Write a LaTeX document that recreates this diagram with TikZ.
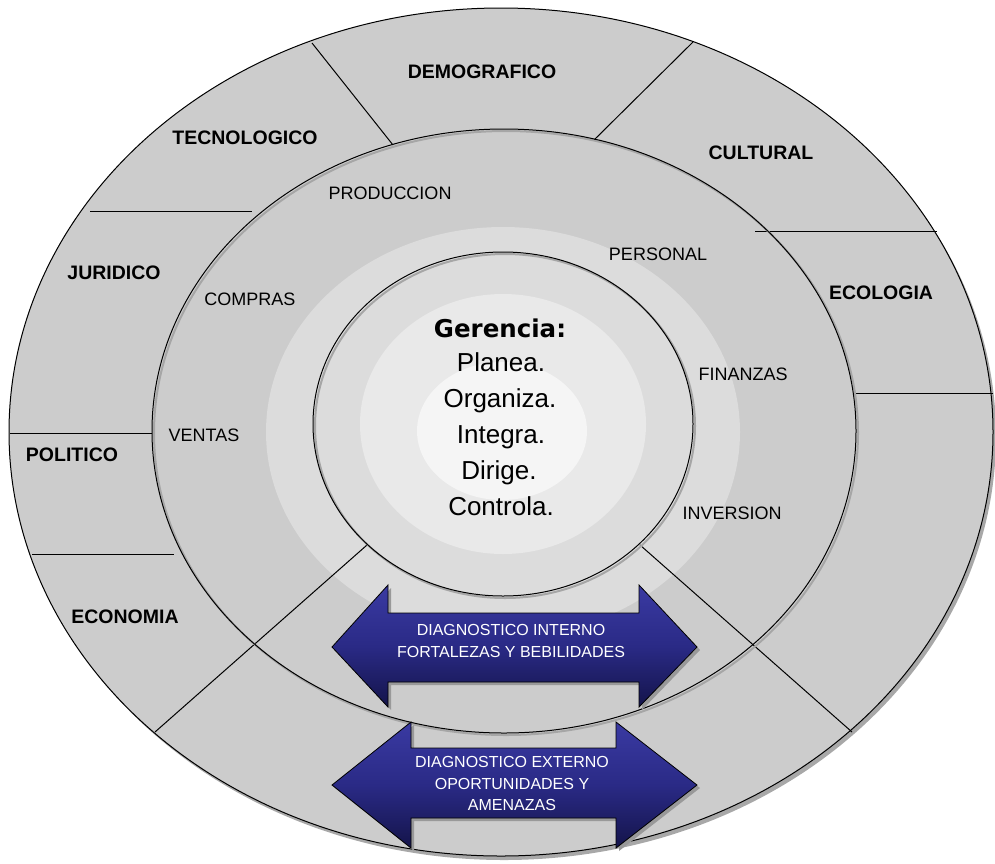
\documentclass[tikz,border=0pt]{standalone}
\usepackage{fontspec}
\setmainfont{Liberation Sans}
\newfontfamily\dejavu{DejaVu Sans}
\definecolor{ring}{HTML}{CCCCCC}
\definecolor{bandA}{HTML}{DCDCDC}
\definecolor{bandB}{HTML}{E9E9E9}
\definecolor{bandC}{HTML}{F5F5F5}
\definecolor{shadowc}{HTML}{A8A8A8}
\definecolor{arrtop}{HTML}{3A3AA2}
\definecolor{arrmid}{HTML}{2A2A86}
\definecolor{arrbot}{HTML}{14144A}
\tikzset{
  outerlbl/.style={font=\fontsize{19.5}{19.5}\selectfont\bfseries, inner sep=0pt},
  innerlbl/.style={font=\fontsize{18}{18}\selectfont, inner sep=0pt},
  arrtxt/.style={text=white, align=center, font=\fontsize{16}{21.5}\selectfont, inner sep=0pt},
  ctrline/.style={font=\fontsize{26}{26}\selectfont, anchor=base, inner sep=0pt},
  ctrhead/.style={font=\dejavu\fontsize{24.5}{24.5}\selectfont\bfseries, anchor=base, inner sep=0pt},
  ln/.style={line width=1pt, draw=black},
  lnshadow/.style={line width=2pt, draw=black!35},
  arrbody/.style={top color=arrtop, bottom color=arrbot, middle color=arrmid, draw=black, line width=0.8pt},
  arrshadow/.style={fill=black!40}
}
\begin{document}
\begin{tikzpicture}[x=1pt,y=-1pt]
\useasboundingbox (0,0) rectangle (995,863);
% outer ring
\fill[shadowc] (504,436) ellipse [x radius=492, y radius=424];
\filldraw[fill=ring, ln] (501,432) ellipse [x radius=492, y radius=424];
% segment dividers in outer ring
\coordinate (d1o) at (312,43);  \coordinate (d1i) at (393,145);
\coordinate (d2o) at (693,42);  \coordinate (d2i) at (594,140);
\coordinate (d3i) at (755,231); \coordinate (d3o) at (937,231);
\coordinate (d4i) at (855,393); \coordinate (d4o) at (993,393);
\coordinate (d5o) at (90,211);  \coordinate (d5i) at (252,211);
\coordinate (d6o) at (10,433);  \coordinate (d6i) at (152,433);
\coordinate (d7o) at (32,554);  \coordinate (d7i) at (174,554);
\draw[ln] (d1o) -- (d1i);
\draw[ln] (d2o) -- (d2i);
\draw[ln] (d3i) -- (d3o);
\draw[ln] (d4i) -- (d4o);
\draw[ln] (d5o) -- (d5i);
\draw[ln] (d6o) -- (d6i);
\draw[ln] (d7o) -- (d7i);
% gradient bands around inner circle
\fill[bandA] (503,432) ellipse [x radius=237, y radius=205];
\fill[bandB] (503,424) ellipse [x radius=143, y radius=130];
\fill[bandC] (502,431) ellipse [x radius=85, y radius=69];
% diagonal lines
\coordinate (gl1) at (367,545); \coordinate (gl2) at (155,732);
\coordinate (gr1) at (640,545); \coordinate (gr2) at (852,732);
\draw[ln] (gl1) -- (gl2);
\draw[ln] (gr1) -- (gr2);
% middle ellipse
\draw[lnshadow] (506,433) ellipse [x radius=352, y radius=302];
\draw[ln] (504,431) ellipse [x radius=352, y radius=302];
% inner ellipse
\draw[lnshadow] (505,426) ellipse [x radius=190, y radius=172];
\draw[ln] (503,424) ellipse [x radius=190, y radius=172];
% outer labels
\node[outerlbl] (demo) at (482,72) {DEMOGRAFICO};
\node[outerlbl] (tecno) at (245,138) {TECNOLOGICO};
\node[outerlbl] (cult) at (761,153) {CULTURAL};
\node[outerlbl] (juri) at (114,273) {JURIDICO};
\node[outerlbl] (ecol) at (881,293) {ECOLOGIA};
\node[outerlbl] (poli) at (72,455) {POLITICO};
\node[outerlbl] (econ) at (125,617) {ECONOMIA};
% inner labels
\node[innerlbl] (prod) at (390,193) {PRODUCCION};
\node[innerlbl] (pers) at (658,254) {PERSONAL};
\node[innerlbl] (comp) at (250,299) {COMPRAS};
\node[innerlbl] (fina) at (743,374) {FINANZAS};
\node[innerlbl] (vent) at (204,435) {VENTAS};
\node[innerlbl] (inve) at (732,513) {INVERSION};
% center text
\node[ctrhead] (ger) at (500,337) {Gerencia:};
\node[ctrline] (pla) at (501,371) {Planea.};
\node[ctrline] (org) at (500,407) {Organiza.};
\node[ctrline] (int) at (501,443) {Integra.};
\node[ctrline] (dir) at (499,479) {Dirige.};
\node[ctrline] (con) at (501,515) {Controla.};
% arrow 1 (internal)
\fill[arrshadow] (335,650) -- (391,588) -- (391,616) -- (642,616) -- (642,588) -- (700,650) -- (642,710) -- (642,685) -- (391,685) -- (391,710) -- cycle;
\path[arrbody] (332,647) -- (388,585) -- (388,613) -- (639,613) -- (639,585) -- (697,647) -- (639,707) -- (639,682) -- (388,682) -- (388,707) -- cycle;
\node[arrtxt] (aint) at (511,641) {DIAGNOSTICO INTERNO\\FORTALEZAS Y BEBILIDADES};
% arrow 2 (external)
\fill[arrshadow] (335,788) -- (414,725) -- (414,751) -- (619,751) -- (619,725) -- (700,788) -- (619,851) -- (619,821) -- (414,821) -- (414,851) -- cycle;
\path[arrbody] (332,785) -- (411,722) -- (411,748) -- (616,748) -- (616,722) -- (697,785) -- (616,848) -- (616,818) -- (411,818) -- (411,848) -- cycle;
\node[arrtxt] (aext) at (512,783.5) {DIAGNOSTICO EXTERNO\\OPORTUNIDADES Y\\AMENAZAS};
\end{tikzpicture}
\end{document}
